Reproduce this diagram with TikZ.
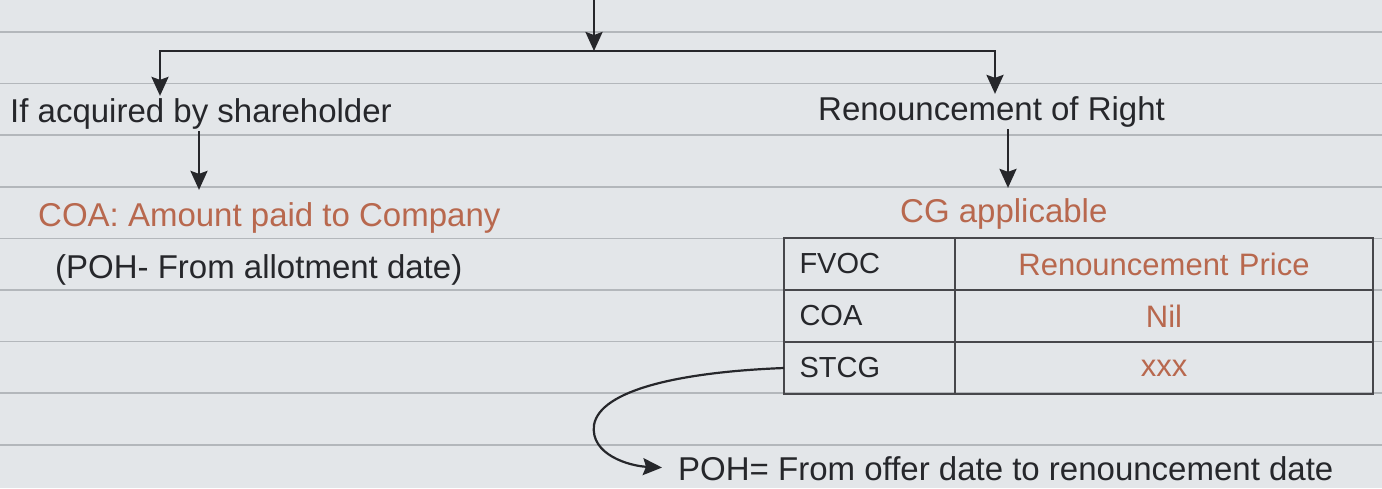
\documentclass[tikz,border=0pt]{standalone}
\usepackage{fontspec}
\setmainfont{Liberation Sans}
\usetikzlibrary{arrows.meta,positioning}
\definecolor{ink}{HTML}{26272B}
\definecolor{rust}{HTML}{B8684E}
\definecolor{paper}{HTML}{E3E6E9}
\definecolor{ruleline}{HTML}{B3B7BB}

\tikzset{
  txt/.style={inner sep=2pt,text=ink,font=\fontsize{33}{38}\selectfont},
  hl/.style={txt,text=rust},
  arr/.style={ink,line width=2.6pt,-{Stealth[length=19pt,width=17pt,inset=3pt]}},
  cell/.style={draw=ink!85,line width=1.8pt,outer sep=0pt,minimum height=52pt,
    inner xsep=15.5pt,inner ysep=0pt,text=ink},
  keycell/.style={cell,text width=140pt,align=left,font=\fontsize{29}{33}\selectfont},
  valcell/.style={cell,text width=387pt,align=center,text=rust,font=\fontsize{31}{36}\selectfont},
}

\begin{document}
\begin{tikzpicture}[x=1pt,y=-1pt]
\fill[paper] (0,0) rectangle (1382,488);
\useasboundingbox (0,0) rectangle (1382,488);
% ruled paper
\foreach \k in {0,...,8}{\draw[ruleline,line width=1.5pt] (0,{32+51.6*\k}) -- (1382,{32+51.6*\k});}

% split at the top
\coordinate (top) at (594,0);
\coordinate (split) at (594,51);
\coordinate (lx) at (160,0);
\coordinate (rx) at (995,0);
\coordinate (ax) at (199,0);
\coordinate (bx) at (1008,0);

\node[txt,anchor=base west] (acq) at (8,122) {If acquired by shareholder};
\node[txt,anchor=base west] (ren) at (816,120) {Renouncement of Right};
\node[hl,anchor=base west] (coa) at (36,226) {COA: Amount paid to Company};
\node[txt,anchor=base west] (allot) at (53,278) {(POH- From allotment date)};
\node[hl,anchor=base west] (cg) at (898,222) {CG applicable};

\draw[arr] (top) -- (split);
\draw[arr] (split) -| (lx |- acq.north);
\draw[arr] (split) -| (rx |- ren.north);
\draw[arr,shorten >=10pt] (ax |- acq.south) -- (ax |- coa.north);
\draw[arr,shorten >=8pt] (bx |- ren.south) -- (bx |- cg.north);

% table
\node[keycell,anchor=north west] (fvoc) at (784,238) {FVOC};
\node[valcell,right=0pt of fvoc] (fvocv) {Renouncement Price};
\node[keycell,below=0pt of fvoc] (coak) {COA};
\node[valcell,right=0pt of coak] (coav) {Nil};
\node[keycell,below=0pt of coak] (stcg) {STCG};
\node[valcell,right=0pt of stcg] (stcgv) {xxx};

\node[txt,anchor=base west] (poh) at (676,480) {POH= From offer date to renouncement date};
\draw[arr,line width=2.2pt,shorten >=14pt] (stcg.west) .. controls (680,372) and (600,390) .. (594,425)
  .. controls (590,455) and (630,466) .. (poh.west);
\end{tikzpicture}
\end{document}
